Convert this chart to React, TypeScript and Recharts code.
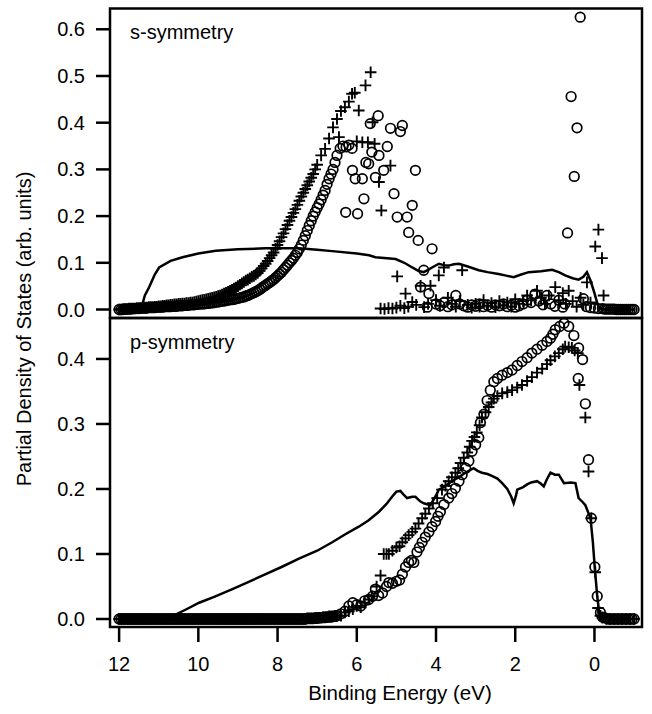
import { ComposedChart, Scatter, XAxis, YAxis, Label } from 'recharts';

type Pt = [number, number];

const INK = '#000';
const FONT = '"Liberation Sans", Arial, Helvetica, sans-serif';

const energyTicks = [12, 10, 8, 6, 4, 2, 0];
const sTicks = [0, 0.1, 0.2, 0.3, 0.4, 0.5, 0.6];
const pTicks = [0, 0.1, 0.2, 0.3, 0.4];

// s-symmetry, total (solid line)
const sLine: Pt[] = [
  [12.0, 0], [11.45, 0], [11.35, 0.03], [11.24, 0.048], [11.1, 0.075], [10.99, 0.09], [10.7, 0.104],
  [10.4, 0.112], [10.0, 0.12], [9.56, 0.126], [9.0, 0.129], [8.3, 0.131], [7.46, 0.131], [7.0, 0.128],
  [6.62, 0.125], [6.0, 0.12], [5.69, 0.116], [5.53, 0.112], [5.02, 0.108], [4.8, 0.1], [4.6, 0.09],
  [4.45, 0.083], [4.31, 0.08], [4.2, 0.085], [4.1, 0.09], [3.93, 0.098], [3.8, 0.095], [3.68, 0.094],
  [3.55, 0.097], [3.42, 0.098], [3.2, 0.092], [2.92, 0.084], [2.7, 0.08], [2.42, 0.076], [2.2, 0.072],
  [2.04, 0.069], [1.85, 0.075], [1.66, 0.08], [1.35, 0.082], [1.07, 0.085], [0.9, 0.08], [0.74, 0.073],
  [0.55, 0.067], [0.4, 0.064], [0.28, 0.07], [0.19, 0.08], [0.1, 0.062], [0.0, 0.035], [-0.1, 0.005],
  [-0.2, 0], [-1.0, 0],
];

// s-symmetry, circles
const sCircles: Pt[] = [
  [12.0, 0], [11.9, 0], [11.8, 0.001], [11.7, 0.001], [11.6, 0.002], [11.5, 0.002], [11.4, 0.003],
  [11.3, 0.003], [11.2, 0.004], [11.1, 0.004], [11.0, 0.005], [10.9, 0.005], [10.8, 0.006], [10.7, 0.006],
  [10.6, 0.007], [10.5, 0.008], [10.4, 0.008], [10.3, 0.009], [10.2, 0.01], [10.1, 0.01], [10.0, 0.011],
  [9.9, 0.012], [9.8, 0.013], [9.7, 0.014], [9.6, 0.015], [9.5, 0.016], [9.4, 0.018], [9.3, 0.019],
  [9.2, 0.021], [9.1, 0.022], [9.0, 0.024], [8.9, 0.026], [8.8, 0.029], [8.7, 0.032], [8.6, 0.036],
  [8.5, 0.04], [8.4, 0.046], [8.3, 0.052], [8.2, 0.058], [8.1, 0.064], [8.0, 0.072], [7.9, 0.08],
  [7.8, 0.09], [7.7, 0.1], [7.6, 0.11], [7.5, 0.122], [7.4, 0.138], [7.3, 0.158], [7.2, 0.18],
  [7.1, 0.2], [7.0, 0.218], [6.9, 0.235], [6.8, 0.255], [6.7, 0.28], [6.6, 0.3], [6.5, 0.33],
  [11.95, 0], [11.85, 0.001], [11.75, 0.001], [11.65, 0.002], [11.55, 0.002], [11.45, 0.003], [11.35, 0.003],
  [11.25, 0.004], [11.15, 0.004], [11.05, 0.005], [10.95, 0.005], [10.85, 0.006], [10.75, 0.006],
  [10.65, 0.007], [10.55, 0.007], [10.45, 0.008], [10.35, 0.009], [10.25, 0.009], [10.15, 0.01],
  [10.05, 0.011], [9.95, 0.012], [9.85, 0.012], [9.75, 0.013], [9.65, 0.014], [9.55, 0.016], [9.45, 0.017],
  [9.35, 0.018], [9.25, 0.02], [9.15, 0.021], [9.05, 0.023], [8.95, 0.025], [8.85, 0.027], [8.75, 0.03],
  [8.65, 0.034], [8.55, 0.038], [8.45, 0.043], [8.35, 0.049], [8.25, 0.055], [8.15, 0.061], [8.05, 0.068],
  [7.95, 0.076], [7.85, 0.085], [7.75, 0.095], [7.65, 0.105], [7.55, 0.116], [7.45, 0.13], [7.35, 0.148],
  [7.25, 0.169], [7.15, 0.19], [7.05, 0.209], [6.95, 0.226], [6.85, 0.245], [6.75, 0.268], [6.65, 0.29],
  [6.55, 0.315],
  [6.42, 0.345], [6.35, 0.35], [6.27, 0.348], [6.2, 0.352], [6.12, 0.345],
  [6.28, 0.208], [6.11, 0.298], [6.04, 0.28], [5.98, 0.205], [5.86, 0.28], [5.82, 0.237], [5.77, 0.315],
  [5.7, 0.312], [5.66, 0.398], [5.62, 0.337], [5.53, 0.283], [5.46, 0.415], [5.44, 0.33], [5.32, 0.298],
  [5.23, 0.349], [5.15, 0.388], [5.06, 0.248], [4.98, 0.198], [4.9, 0.381], [4.85, 0.394], [4.73, 0.198],
  [4.69, 0.165], [4.6, 0.223], [4.52, 0.298], [4.45, 0.148], [4.39, 0.048], [4.31, 0.084], [4.22, 0.005],
  [4.18, 0.034], [4.1, 0.13],
  [4.0, 0.012], [3.9, 0.008], [3.8, 0.015], [3.7, 0.006], [3.6, 0.01], [3.5, 0.03], [3.4, 0.012],
  [3.3, 0.008], [3.2, 0.005], [3.1, 0.01], [3.0, 0.007], [2.9, 0.012], [2.8, 0.006], [2.7, 0.009],
  [2.6, 0.005], [2.5, 0.01], [2.4, 0.008], [2.3, 0.012], [2.2, 0.006], [2.1, 0.009], [2.0, 0.005],
  [1.9, 0.008], [1.8, 0.012], [1.7, 0.02], [1.6, 0.015], [1.5, 0.033], [1.4, 0.018], [1.3, 0.01],
  [1.2, 0.03], [1.1, 0.012], [1.0, 0.007], [0.9, 0.02], [0.8, 0.005], [0.75, 0.012],
  [0.68, 0.164], [0.59, 0.456], [0.51, 0.285], [0.44, 0.389], [0.36, 0.626],
  [0.28, 0.023], [0.2, 0.006], [0.1, 0.004], [0.0, 0.003], [-0.1, 0.002], [-0.2, 0.002], [-0.3, 0.001],
  [-0.4, 0.001], [-0.5, 0.001], [-0.6, 0], [-0.7, 0], [-0.8, 0], [-0.9, 0], [-1.0, 0],
  [-0.25, 0.001], [-0.35, 0.001], [-0.45, 0.001], [-0.55, 0], [-0.65, 0], [-0.75, 0], [-0.85, 0], [-0.95, 0],
];

// s-symmetry, crosses
const sCrosses: Pt[] = [
  [12.0, 0], [11.9, 0.001], [11.8, 0.001], [11.7, 0.002], [11.6, 0.002], [11.5, 0.003], [11.4, 0.004],
  [11.3, 0.004], [11.2, 0.005], [11.1, 0.006], [11.0, 0.007], [10.9, 0.008], [10.8, 0.009], [10.7, 0.01],
  [10.6, 0.011], [10.5, 0.012], [10.4, 0.013], [10.3, 0.014], [10.2, 0.015], [10.1, 0.016], [10.0, 0.018],
  [9.9, 0.02], [9.8, 0.022], [9.7, 0.024], [9.6, 0.026], [9.5, 0.029], [9.4, 0.032], [9.3, 0.036],
  [9.2, 0.04], [9.1, 0.045], [9.0, 0.05], [8.9, 0.056], [8.8, 0.062], [8.7, 0.067], [8.6, 0.072],
  [8.5, 0.078], [8.4, 0.088], [8.3, 0.098], [8.2, 0.11], [8.1, 0.122], [8.0, 0.138], [7.9, 0.155],
  [7.8, 0.172], [7.7, 0.19], [7.6, 0.207], [7.5, 0.224], [7.4, 0.242], [7.3, 0.258], [7.2, 0.274],
  [7.1, 0.29], [7.0, 0.31], [6.9, 0.33], [6.8, 0.344], [6.7, 0.366], [6.6, 0.39], [6.5, 0.408],
  [11.95, 0], [11.85, 0.001], [11.75, 0.002], [11.65, 0.002], [11.55, 0.003], [11.45, 0.003], [11.35, 0.004],
  [11.25, 0.005], [11.15, 0.005], [11.05, 0.006], [10.95, 0.007], [10.85, 0.008], [10.75, 0.009],
  [10.65, 0.01], [10.55, 0.011], [10.45, 0.012], [10.35, 0.013], [10.25, 0.014], [10.15, 0.015],
  [10.05, 0.017], [9.95, 0.019], [9.85, 0.021], [9.75, 0.023], [9.65, 0.025], [9.55, 0.027], [9.45, 0.03],
  [9.35, 0.034], [9.25, 0.038], [9.15, 0.042], [9.05, 0.047], [8.95, 0.053], [8.85, 0.059], [8.75, 0.064],
  [8.65, 0.07], [8.55, 0.075], [8.45, 0.083], [8.35, 0.093], [8.25, 0.104], [8.15, 0.116], [8.05, 0.13],
  [7.95, 0.146], [7.85, 0.163], [7.75, 0.181], [7.65, 0.198], [7.55, 0.215], [7.45, 0.233], [7.35, 0.25],
  [7.25, 0.266], [7.15, 0.282], [7.05, 0.3],
  [6.4, 0.425], [6.3, 0.433], [6.2, 0.445], [6.12, 0.462], [6.05, 0.464], [5.95, 0.426], [5.78, 0.48],
  [5.65, 0.508], [6.45, 0.369], [6.0, 0.36], [5.86, 0.358], [5.72, 0.358], [5.6, 0.401], [5.55, 0.355],
  [5.44, 0.273], [5.38, 0.212], [5.15, 0.308], [4.98, 0.071], [4.77, 0.034], [4.6, 0.016], [4.39, 0.051],
  [4.14, 0.051], [3.93, 0.073], [3.8, 0.09], [3.34, 0.084],
  [5.4, 0.002], [5.3, 0.001], [5.2, 0.003], [5.1, 0.002], [5.0, 0.004], [4.9, 0.008], [4.8, 0.003],
  [4.7, 0.006], [4.5, 0.01], [4.3, 0.005], [4.2, 0.012], [4.0, 0.02], [3.9, 0.008], [3.7, 0.025],
  [3.6, 0.012], [3.5, 0.006], [3.4, 0.018], [3.2, 0.01], [3.1, 0.004], [3.0, 0.012], [2.9, 0.006],
  [2.8, 0.02], [2.7, 0.008], [2.6, 0.014], [2.5, 0.005], [2.4, 0.018], [2.3, 0.009], [2.2, 0.015],
  [2.1, 0.006], [2.0, 0.022], [1.9, 0.012], [1.8, 0.018], [1.7, 0.03], [1.6, 0.02], [1.45, 0.04],
  [1.35, 0.025], [1.25, 0.012], [1.15, 0.03], [0.99, 0.048], [0.9, 0.02], [0.8, 0.035], [0.72, 0.012],
  [0.65, 0.04], [0.55, 0.018], [0.45, 0.006], [0.35, 0.025], [0.28, 0.01], [0.19, 0.058], [0.1, 0.015],
  [-0.02, 0.135], [-0.1, 0.171], [-0.19, 0.11], [-0.23, 0.03],
];

// p-symmetry, total (solid line)
const pLine: Pt[] = [
  [12.0, 0], [10.8, 0], [10.6, 0.006], [10.3, 0.015], [9.98, 0.025], [9.6, 0.034], [9.14, 0.046],
  [8.7, 0.058], [8.3, 0.069], [7.9, 0.08], [7.46, 0.093], [7.0, 0.105], [6.62, 0.118], [6.3, 0.13],
  [5.95, 0.142], [5.7, 0.152], [5.44, 0.165], [5.25, 0.177], [5.11, 0.188], [5.0, 0.196], [4.9, 0.197],
  [4.8, 0.19], [4.73, 0.186], [4.6, 0.188], [4.52, 0.188], [4.4, 0.181], [4.31, 0.178], [4.14, 0.175],
  [4.0, 0.19], [3.93, 0.199], [3.8, 0.203], [3.6, 0.212], [3.4, 0.219], [3.26, 0.225], [3.05, 0.232],
  [2.95, 0.228], [2.84, 0.225], [2.7, 0.223], [2.59, 0.22], [2.45, 0.216], [2.33, 0.209], [2.2, 0.2],
  [2.1, 0.188], [2.04, 0.178], [1.98, 0.19], [1.95, 0.199], [1.8, 0.203], [1.7, 0.207], [1.6, 0.21],
  [1.45, 0.212], [1.35, 0.208], [1.28, 0.204], [1.2, 0.215], [1.11, 0.225], [1.0, 0.222], [0.9, 0.222],
  [0.77, 0.209], [0.6, 0.21], [0.48, 0.209], [0.4, 0.186], [0.3, 0.18], [0.23, 0.175], [0.1, 0.155],
  [0.04, 0.118], [-0.01, 0.077], [-0.07, 0.035], [-0.12, 0.01], [-0.2, 0], [-1.0, 0],
];

// p-symmetry, circles
const pCircles: Pt[] = [
  [12.0, 0], [11.9, 0], [11.8, 0], [11.7, 0], [11.6, 0], [11.5, 0], [11.4, 0], [11.3, 0], [11.2, 0],
  [11.1, 0], [11.0, 0], [10.9, 0], [10.8, 0], [10.7, 0], [10.6, 0], [10.5, 0], [10.4, 0], [10.3, 0],
  [10.2, 0], [10.1, 0], [10.0, 0], [9.9, 0], [9.8, 0], [9.7, 0], [9.6, 0], [9.5, 0], [9.4, 0], [9.3, 0],
  [9.2, 0], [9.1, 0], [9.0, 0], [8.9, 0], [8.8, 0], [8.7, 0], [8.6, 0], [8.5, 0], [8.4, 0], [8.3, 0],
  [8.2, 0], [8.1, 0], [8.0, 0], [7.9, 0], [7.8, 0], [7.7, 0], [7.6, 0], [7.5, 0], [7.4, 0], [7.3, 0],
  [11.95, 0], [11.85, 0], [11.75, 0], [11.65, 0], [11.55, 0], [11.45, 0], [11.35, 0], [11.25, 0],
  [11.15, 0], [11.05, 0], [10.95, 0], [10.85, 0], [10.75, 0], [10.65, 0], [10.55, 0], [10.45, 0],
  [10.35, 0], [10.25, 0], [10.15, 0], [10.05, 0], [9.95, 0], [9.85, 0], [9.75, 0], [9.65, 0], [9.55, 0],
  [9.45, 0], [9.35, 0], [9.25, 0], [9.15, 0], [9.05, 0], [8.95, 0], [8.85, 0], [8.75, 0], [8.65, 0],
  [8.55, 0], [8.45, 0], [8.35, 0], [8.25, 0], [8.15, 0], [8.05, 0], [7.95, 0], [7.85, 0], [7.75, 0],
  [7.65, 0], [7.55, 0], [7.45, 0], [7.35, 0], [7.25, 0.001], [7.15, 0.001], [7.05, 0.001], [6.95, 0.002],
  [6.85, 0.002], [6.75, 0.003], [6.65, 0.003], [6.55, 0.004],
  [7.2, 0.001], [7.1, 0.001], [7.0, 0.001], [6.9, 0.002], [6.8, 0.002], [6.7, 0.003], [6.6, 0.004],
  [6.5, 0.005], [6.4, 0.008], [6.3, 0.012], [6.2, 0.02], [6.1, 0.025], [6.0, 0.022], [5.9, 0.02],
  [5.8, 0.028], [5.7, 0.03], [5.6, 0.035], [5.53, 0.046], [5.45, 0.036], [5.35, 0.04], [5.25, 0.05],
  [5.19, 0.056], [5.1, 0.055], [5.0, 0.058], [4.92, 0.06], [4.85, 0.069], [4.77, 0.08], [4.69, 0.087],
  [4.62, 0.09], [4.56, 0.087], [4.48, 0.103], [4.42, 0.11], [4.35, 0.118], [4.27, 0.126], [4.18, 0.134],
  [4.1, 0.142], [4.01, 0.15], [3.95, 0.158], [3.89, 0.165], [3.8, 0.176], [3.68, 0.186], [3.6, 0.193],
  [3.51, 0.201], [3.42, 0.212], [3.34, 0.222], [3.25, 0.232], [3.17, 0.243], [3.09, 0.258], [3.0, 0.268],
  [2.92, 0.279], [2.88, 0.302], [2.79, 0.315], [2.71, 0.336], [2.63, 0.352], [2.54, 0.365], [2.45, 0.37],
  [2.33, 0.375], [2.2, 0.379], [2.08, 0.383], [1.95, 0.39], [1.83, 0.396], [1.7, 0.402], [1.58, 0.409],
  [1.45, 0.415], [1.32, 0.421], [1.2, 0.427], [1.11, 0.432], [1.05, 0.438], [0.99, 0.445], [0.88, 0.45],
  [0.77, 0.455], [0.65, 0.45], [0.52, 0.436], [0.41, 0.37], [0.4, 0.417], [0.3, 0.399], [0.23, 0.331],
  [0.15, 0.245], [0.08, 0.155], [-0.01, 0.08], [-0.07, 0.035], [-0.15, 0.01], [-0.2, 0.003],
  [-0.3, 0.001], [-0.4, 0], [-0.5, 0], [-0.6, 0], [-0.7, 0], [-0.8, 0], [-0.9, 0], [-1.0, 0],
  [-0.25, 0.002], [-0.35, 0], [-0.45, 0], [-0.55, 0], [-0.65, 0], [-0.75, 0], [-0.85, 0], [-0.95, 0],
];

// p-symmetry, crosses
const pCrosses: Pt[] = [
  [12.0, 0], [11.9, 0], [11.8, 0], [11.7, 0], [11.6, 0], [11.5, 0], [11.4, 0], [11.3, 0], [11.2, 0],
  [11.1, 0], [11.0, 0], [10.9, 0], [10.8, 0], [10.7, 0], [10.6, 0], [10.5, 0], [10.4, 0], [10.3, 0],
  [10.2, 0], [10.1, 0], [10.0, 0], [9.9, 0], [9.8, 0], [9.7, 0], [9.6, 0], [9.5, 0], [9.4, 0], [9.3, 0],
  [9.2, 0], [9.1, 0], [9.0, 0], [8.9, 0], [8.8, 0], [8.7, 0], [8.6, 0], [8.5, 0], [8.4, 0], [8.3, 0],
  [8.2, 0], [8.1, 0], [8.0, 0], [7.9, 0], [7.8, 0], [7.7, 0], [7.6, 0], [7.5, 0], [7.4, 0], [7.3, 0],
  [11.95, 0], [11.85, 0], [11.75, 0], [11.65, 0], [11.55, 0], [11.45, 0], [11.35, 0], [11.25, 0],
  [11.15, 0], [11.05, 0], [10.95, 0], [10.85, 0], [10.75, 0], [10.65, 0], [10.55, 0], [10.45, 0],
  [10.35, 0], [10.25, 0], [10.15, 0], [10.05, 0], [9.95, 0], [9.85, 0], [9.75, 0], [9.65, 0], [9.55, 0],
  [9.45, 0], [9.35, 0], [9.25, 0], [9.15, 0], [9.05, 0], [8.95, 0], [8.85, 0], [8.75, 0], [8.65, 0],
  [8.55, 0], [8.45, 0], [8.35, 0], [8.25, 0], [8.15, 0], [8.05, 0], [7.95, 0], [7.85, 0], [7.75, 0],
  [7.65, 0], [7.55, 0], [7.45, 0], [7.35, 0], [7.25, 0.001], [7.15, 0.001], [7.05, 0.002], [6.95, 0.002],
  [6.85, 0.003], [6.75, 0.003], [6.65, 0.004], [6.55, 0.005],
  [7.2, 0.001], [7.1, 0.001], [7.0, 0.002], [6.9, 0.002], [6.8, 0.003], [6.7, 0.004], [6.6, 0.004],
  [6.5, 0.005], [6.4, 0.005], [6.3, 0.01], [6.2, 0.012], [6.1, 0.015], [6.0, 0.02], [5.9, 0.018],
  [5.8, 0.025], [5.7, 0.03], [5.62, 0.035], [5.5, 0.05], [5.4, 0.067], [5.32, 0.1], [5.25, 0.1],
  [5.19, 0.1], [5.1, 0.105], [5.0, 0.11], [4.92, 0.112], [4.85, 0.118], [4.77, 0.124], [4.69, 0.129],
  [4.6, 0.134], [4.52, 0.139], [4.44, 0.147], [4.35, 0.155], [4.27, 0.162], [4.18, 0.17], [4.08, 0.178],
  [3.97, 0.186], [3.85, 0.199], [3.76, 0.205], [3.68, 0.212], [3.6, 0.218], [3.51, 0.225], [3.44, 0.232],
  [3.38, 0.24], [3.3, 0.248], [3.21, 0.256], [3.15, 0.265], [3.09, 0.274], [3.03, 0.28], [2.97, 0.287],
  [2.9, 0.298], [2.84, 0.31], [2.75, 0.318], [2.67, 0.326], [2.6, 0.333], [2.54, 0.339], [2.45, 0.343],
  [2.33, 0.347], [2.2, 0.349], [2.08, 0.352], [1.95, 0.356], [1.83, 0.36], [1.7, 0.366], [1.58, 0.372],
  [1.45, 0.379], [1.32, 0.385], [1.2, 0.392], [1.11, 0.398], [1.0, 0.404], [0.9, 0.409], [0.8, 0.415],
  [0.74, 0.419], [0.65, 0.418], [0.57, 0.417], [0.5, 0.413], [0.42, 0.409], [0.38, 0.36], [0.23, 0.31],
  [0.15, 0.227], [0.08, 0.155], [-0.02, 0.072], [-0.09, 0.017], [-0.15, 0.005], [-0.2, 0.002],
  [-0.3, 0], [-0.4, 0], [-0.5, 0], [-0.6, 0], [-0.7, 0], [-0.8, 0], [-0.9, 0], [-1.0, 0],
];

const toRows = (pts: Pt[]) => pts.map(([e, v]) => ({ e, v }));

const Ring = (props: any) => (
  <circle cx={props.cx} cy={props.cy} r={4.8} fill="none" stroke={INK} strokeWidth={1.7} />
);

const Plus = (props: any) => {
  const { cx, cy } = props;
  return <path d={`M${cx - 5.8},${cy}h11.6M${cx},${cy - 5.8}v11.6`} stroke={INK} strokeWidth={1.9} fill="none" />;
};

const NoDot = () => <g />;

const xDomain: [number, number] = [-1.2, 12.23];
const tickStyle = { fill: INK, fontSize: 20, fontFamily: FONT };
const tickLineStyle = { stroke: INK, strokeWidth: 2.5 };

const XTitle = (props: any) => {
  const { x, y, width, height } = props.viewBox;
  return (
    <text x={x + width / 2 + 24} y={y + height - 14} textAnchor="middle" fill={INK} fontSize={20.5} fontFamily={FONT}>
      Binding Energy (eV)
    </text>
  );
};

const Panel = ({ line, circles, crosses, yDomain, yTicks, height, margin, showX }: any) => (
  <ComposedChart width={652} height={height} margin={margin} style={{ overflow: 'visible' }}>
    <XAxis
      type="number"
      dataKey="e"
      domain={xDomain}
      reversed
      allowDataOverflow
      hide={!showX}
      ticks={energyTicks}
      interval={0}
      axisLine={false}
      tickSize={15}
      tickMargin={15}
      tickLine={tickLineStyle}
      tick={tickStyle}
      height={87}
    >
      {showX && <Label content={<XTitle />} />}
    </XAxis>
    <YAxis
      type="number"
      dataKey="v"
      domain={yDomain}
      allowDataOverflow
      ticks={yTicks}
      interval={0}
      tickFormatter={(v: number) => v.toFixed(1)}
      axisLine={false}
      tickSize={14}
      tickMargin={11}
      tickLine={tickLineStyle}
      tick={tickStyle}
      width={110}
    />
    <Scatter data={toRows(line)} line={{ stroke: INK, strokeWidth: 2.5 }} shape={NoDot} isAnimationActive={false} />
    <Scatter data={toRows(circles)} shape={Ring} isAnimationActive={false} />
    <Scatter data={toRows(crosses)} shape={Plus} isAnimationActive={false} />
  </ComposedChart>
);

export default function App() {
  return (
    <div style={{ position: 'absolute', left: 0, top: 0, width: 652, height: 714, background: '#fff' }}>
      <div style={{ position: 'absolute', left: 0, top: 318 }}>
        <Panel
          line={pLine}
          circles={pCircles}
          crosses={pCrosses}
          yDomain={[-0.0123, 0.463]}
          yTicks={pTicks}
          height={396}
          margin={{ top: 0, right: 10, bottom: 0, left: 0 }}
          showX
        />
      </div>
      <div style={{ position: 'absolute', left: 0, top: 0 }}>
        <Panel
          line={sLine}
          circles={sCircles}
          crosses={sCrosses}
          yDomain={[-0.0182, 0.6445]}
          yTicks={sTicks}
          height={332}
          margin={{ top: 8.5, right: 10, bottom: 14, left: 0 }}
          showX={false}
        />
      </div>
      <svg width={652} height={714} style={{ position: 'absolute', left: 0, top: 0, pointerEvents: 'none' }}>
        <rect x={110} y={8.5} width={532} height={309.5} fill="none" stroke={INK} strokeWidth={2.5} />
        <rect x={110} y={318} width={532} height={309} fill="none" stroke={INK} strokeWidth={2.5} />
        <text x={130} y={39} fontSize={20} fontFamily={FONT} fill={INK}>s-symmetry</text>
        <text x={130} y={349} fontSize={20} fontFamily={FONT} fill={INK}>p-symmetry</text>
        <text
          x={24}
          y={329}
          transform="rotate(-90 24 329)"
          textAnchor="middle"
          dominantBaseline="central"
          fontSize={20}
          fontFamily={FONT}
          fill={INK}
        >
          Partial Density of States (arb. units)
        </text>
      </svg>
    </div>
  );
}
